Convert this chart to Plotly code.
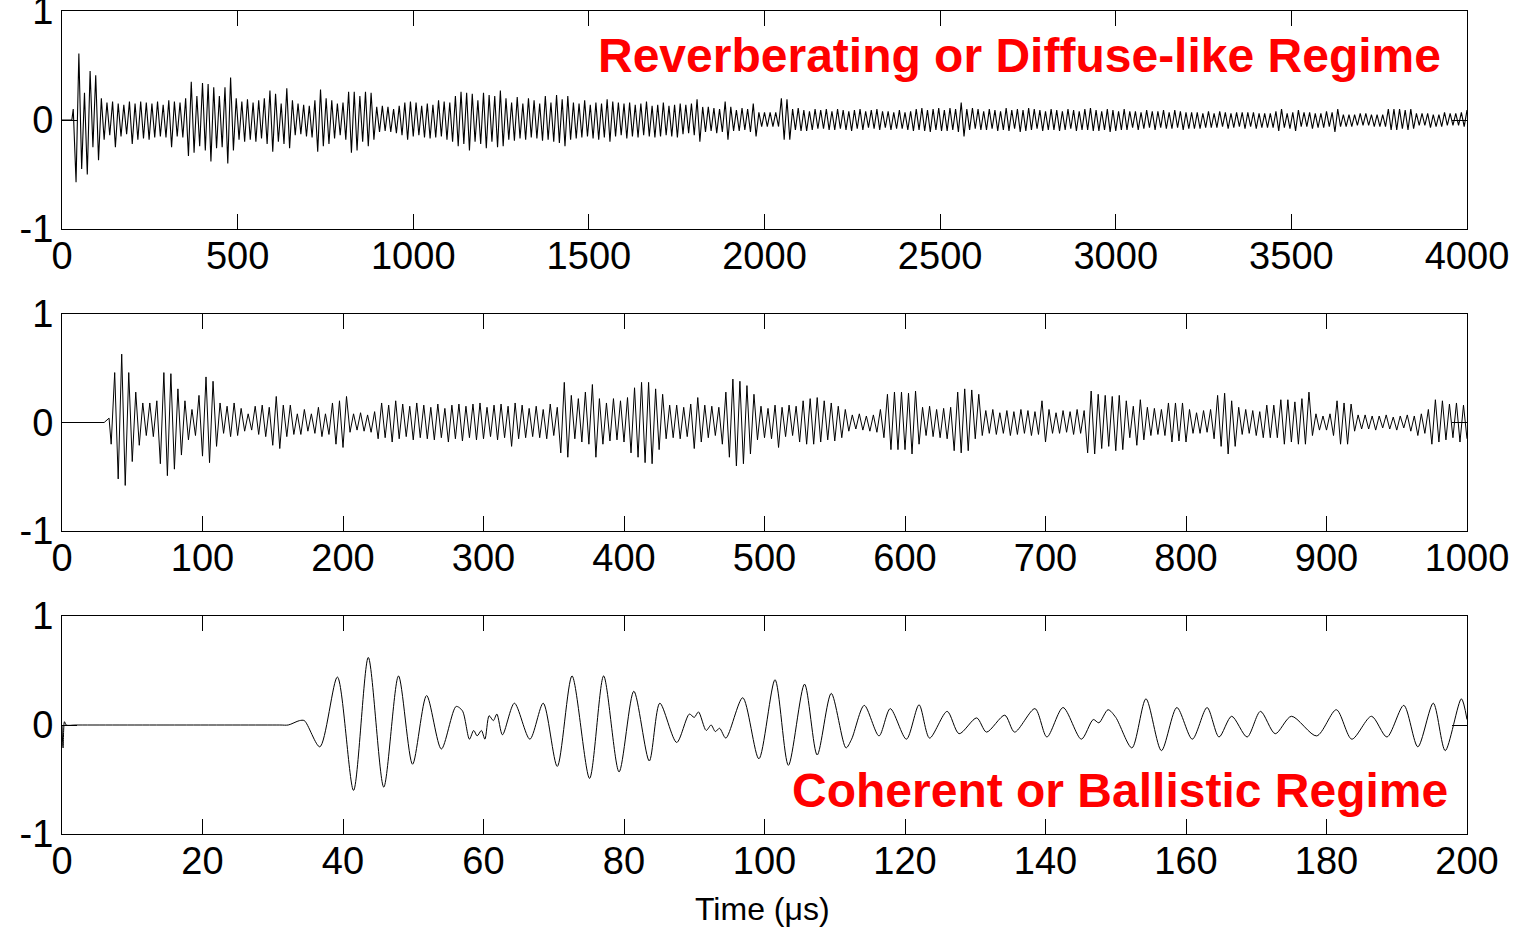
import plotly.graph_objects as go

# ---------------- data (amplitudes in hundredths) -------------
# Top panel: 0-4000 us (extrema every 8 us after the lead-in)
top_lead_t = [0, 28]
top_lead_v = [0, 0]
top_t0 = 32
top_dt = 8
top_vals = [
    10, -57, 61, -45, 25, -50, 45, -25, 41, -37, 20, -18, 16, -14, 17, -25, 15, -15, 14, -13, 17, -22, 15, -18, 17,
    -17, 16, -18, 15, -16, 17, -15, 14, -16, 18, -25, 17, -15, 16, -16, 20, -33, 35, -30, 22, -24, 34, -28, 33, -38,
    30, -26, 22, -25, 30, -40, 39, -28, 20, -18, 17, -20, 19, -18, 16, -20, 18, -17, 20, -22, 27, -29, 24, -20, 15,
    -22, 29, -26, 18, -14, 15, -13, 14, -15, 13, -16, 18, -29, 28, -24, 20, -22, 18, -17, 15, -14, 16, -18, 26, -30,
    26, -28, 22, -20, 26, -24, 25, -18, 12, -11, 13, -10, 12, -11, 10, -12, 13, -14, 16, -18, 17, -15, 16, -14, 13,
    -16, 15, -17, 14, -16, 18, -15, 17, -18, 16, -20, 22, -24, 26, -22, 25, -28, 24, -20, 18, -22, 25, -26, 23, -20,
    22, -25, 27, -24, 20, -18, 16, -19, 21, -17, 15, -18, 20, -16, 18, -17, 15, -19, 22, -18, 16, -20, 23, -21, 19,
    -24, 22, -18, 16, -17, 15, -16, 18, -15, 14, -17, 16, -18, 15, -16, 19, -20, 17, -15, 16, -14, 15, -17, 16, -15,
    14, -16, 15, -14, 17, -15, 13, -16, 14, -15, 16, -14, 13, -15, 14, -16, 15, -13, 14, -12, 15, -14, 19, -20, 12,
    -11, 12, -10, 11, -12, 10, -11, 17, -18, 12, -10, 9, -10, 11, -9, 10, -11, 15, -15, 7, -6, 7, -6, 7, -6,
    7, -6, 20, -18, 19, -18, 10, -9, 11, -10, 9, -10, 8, -9, 10, -8, 9, -8, 10, -9, 8, -9, 10, -8, 9,
    -9, 8, -10, 9, -8, 10, -9, 8, -7, 9, -8, 10, -9, 8, -7, 8, -9, 7, -8, 9, -8, 7, -9, 8, -10,
    10, -9, 11, -10, 9, -11, 10, -9, 11, -10, 9, -10, 11, -9, 10, -11, 16, -15, 10, -9, 11, -8, 10, -9, 8,
    -9, 10, -8, 9, -10, 8, -9, 11, -10, 9, -8, 10, -11, 9, -10, 11, -9, 10, -8, 9, -10, 8, -9, 10, -9,
    9, -10, 8, -9, 10, -8, 9, -10, 8, -9, 10, -9, 11, -10, 9, -10, 8, -9, 10, -11, 9, -10, 8, -9, 10,
    -9, 8, -7, 8, -9, 7, -8, 9, -7, 8, -9, 8, -7, 9, -8, 7, -8, 9, -7, 8, -9, 7, -8, 7, -8,
    7, -8, 6, -7, 8, -7, 6, -7, 8, -6, 7, -8, 6, -7, 7, -6, 7, -8, 7, -6, 7, -8, 6, -7, 6,
    -7, 6, -7, 8, -10, 10, -7, 6, -8, 7, -10, 9, -6, 7, -6, 7, -8, 6, -7, 6, -7, 8, -6, 7, -11,
    10, -6, 5, -6, 5, -6, 5, -5, 6, -5, 6, -5, 5, -6, 5, -6, 5, -6, 10, -9, 10, -9, 10, -8, 9,
    -9, 10, -8, 6, -5, 6, -5, 6, -7, 5, -6, 5, -6, 7, -5, 6, -5, 6, -5, 7, -6, 9, -5, 5, -5,
]

# Middle panel: 0-1000 us (extrema every 2.5 us after the lead-in)
mid_lead_t = [0, 30, 33.5]
mid_lead_v = [0, 0, 4]
mid_t0 = 35
mid_dt = 2.5
mid_vals = [
    -20, 46, -52, 63, -58, 46, -36, 28, -21, 18,
    -12, 18, -13, 20, -38, 46, -49, 45, -43, 31,
    -30, 20, -16, 12, -12, 25, -31, 42, -37, 38,
    -22, 18, -10, 15, -13, 18, -12, 13, -8, 8,
    -7, 15, -11, 16, -13, 14, -21, 24, -24, 16,
    -13, 16, -11, 8, -11, 12, -8, 8, -10, 14,
    -13, 8, -11, 18, -20, 20, -23, 24, -9, 8,
    -7, 9, -8, 7, -9, 10, -15, 18, -14, 16,
    -18, 20, -15, 17, -13, 15, -16, 18, -14, 16,
    -15, 14, -16, 17, -14, 13, -18, 16, -15, 17,
    -17, 15, -14, 17, -16, 18, -15, 14, -13, 16,
    -16, 17, -14, 15, -22, 18, -15, 16, -14, 13,
    -13, 15, -14, 12, -15, 17, -12, 14, -28, 37,
    -32, 25, -15, 22, -18, 28, -20, 35, -32, 22,
    -20, 18, -17, 22, -16, 20, -18, 23, -28, 32,
    -32, 37, -37, 37, -38, 31, -25, 26, -15, 16,
    -14, 16, -15, 14, -13, 17, -24, 23, -18, 16,
    -14, 15, -12, 14, -20, 28, -32, 40, -40, 38,
    -38, 34, -29, 26, -16, 15, -14, 13, -15, 16,
    -23, 14, -13, 16, -12, 15, -18, 20, -20, 22,
    -20, 23, -18, 20, -16, 18, -17, 15, -14, 12,
    -8, 7, -6, 8, -7, 6, -8, 7, -9, 12,
    -14, 26, -25, 28, -25, 28, -25, 27, -29, 29,
    -20, 14, -12, 15, -13, 12, -14, 13, -15, 14,
    -26, 28, -28, 31, -26, 30, -15, 26, -12, 11,
    -10, 12, -11, 9, -10, 11, -12, 10, -11, 12,
    -10, 11, -12, 10, -11, 20, -18, 12, -10, 9,
    -10, 11, -9, 10, -11, 12, -10, 11, -28, 29,
    -29, 26, -24, 25, -22, 24, -26, 25, -25, 20,
    -14, 15, -21, 21, -16, 14, -12, 13, -11, 12,
    -12, 18, -18, 18, -17, 18, -18, 12, -10, 9,
    -10, 11, -9, 12, -15, 25, -22, 27, -29, 20,
    -22, 14, -11, 12, -10, 11, -12, 10, -14, 16,
    -14, 16, -14, 21, -20, 21, -18, 19, -20, 22,
    -20, 28, -12, 8, -7, 6, -7, 8, -12, 20,
    -20, 18, -20, 17, -8, 7, -6, 7, -6, 6,
    -7, 6, -5, 7, -6, 5, -7, 6, -5, 7,
    -8, 6, -12, 8, -10, 12, -20, 21, -18, 20,
    -16, 17, -14, 18, -18, 16, -15,
]

# Bottom panel: 0-200 us, extrema (time in us, amplitude)
bot_t = [0, 0.15, 0.35, 0.6, 2.0, 16.0, 31.0, 32.2, 33.8, 34.5, 36.7, 39.2, 41.5, 43.6, 45.8, 47.9, 49.9,
         51.9, 54.0, 56.1, 57.0, 58.0, 58.6, 59.1, 59.7, 60.2, 60.8, 61.4, 61.9, 62.7,
         64.4, 66.6, 68.5, 70.5, 72.6, 75.1, 77.1, 79.3, 81.4, 83.6, 85.1, 87.5, 89.3,
         90.0, 90.6, 91.7, 92.4, 93.0, 93.6, 94.5, 96.9, 99.2, 101.5, 103.4, 105.7, 107.5,
         109.5, 111.6, 112.4, 114.2, 116.3, 117.9, 120.2, 122.0, 123.5, 126.0, 127.7,
         130.2, 131.6, 134.2, 135.6, 138.5, 140.2, 142.5, 145.1, 146.8, 147.6, 148.9,
         150.0, 152.3, 154.3, 156.5, 158.7, 160.9, 163.0, 164.7, 166.5, 168.7, 170.6,
         172.7, 175.0, 178.6, 181.4, 183.6, 186.4, 188.6, 191.0, 193.0, 195.2, 196.9,
         199.2, 200.0]
bot_v = [0, -0.21, 0.03, 0, 0, 0, 0, 0, 0.04, 0.04, -0.20, 0.44, -0.60, 0.62, -0.57, 0.45, -0.36,
         0.27, -0.22, 0.17, 0.13, -0.13, -0.05, -0.10, -0.05, -0.13, 0.085, 0.04, 0.10, -0.09,
         0.20, -0.13, 0.20, -0.38, 0.45, -0.49, 0.45, -0.43, 0.31, -0.33, 0.20, -0.16, 0.10,
         0.07, 0.12, -0.05, 0.0, -0.06, -0.03, -0.12, 0.25, -0.31, 0.415, -0.37, 0.375, -0.275,
         0.29, -0.21, -0.13, 0.18, -0.10, 0.15, -0.13, 0.185, -0.12, 0.125, -0.08,
         0.065, -0.065, 0.09, -0.065, 0.15, -0.11, 0.16, -0.13, 0.05, 0.02, 0.14,
         0.07, -0.21, 0.24, -0.235, 0.16, -0.13, 0.16, -0.11, 0.08, -0.11, 0.125,
         -0.08, 0.08, -0.10, 0.14, -0.13, 0.08, -0.11, 0.18, -0.20, 0.20, -0.235,
         0.24, 0.05]

top_ticks = [0, 500, 1000, 1500, 2000, 2500, 3000, 3500, 4000]
mid_ticks = [0, 100, 200, 300, 400, 500, 600, 700, 800, 900, 1000]
bot_ticks = [0, 20, 40, 60, 80, 100, 120, 140, 160, 180, 200]
y_ticks = [-1, 0, 1]

title_top = "Reverberating or Diffuse-like Regime"
title_bot = "Coherent or Ballistic Regime"
x_label = "Time (μs)"

# ---------------- build traces ----------------
top_t = top_lead_t + [top_t0 + top_dt * i for i in range(len(top_vals))]
top_v = [v / 100 for v in top_lead_v + top_vals]
mid_t = mid_lead_t + [mid_t0 + mid_dt * i for i in range(len(mid_vals))]
mid_v = [v / 100 for v in mid_lead_v + mid_vals]

fig = go.Figure()
fig.add_trace(go.Scatter(x=top_t, y=top_v, mode="lines", line=dict(color="black", width=1.1),
                         xaxis="x", yaxis="y", showlegend=False, hoverinfo="skip"))
fig.add_trace(go.Scatter(x=mid_t, y=mid_v, mode="lines", line=dict(color="black", width=1),
                         xaxis="x2", yaxis="y2", showlegend=False, hoverinfo="skip"))
fig.add_trace(go.Scatter(x=bot_t, y=bot_v, mode="lines",
                         line=dict(color="black", width=1, shape="spline", smoothing=0.8),
                         xaxis="x3", yaxis="y3", showlegend=False, hoverinfo="skip"))

FONT = "Liberation Sans, Arial, sans-serif"
tickfont = dict(family=FONT, size=38, color="black")

def xax(rng, ticks, anchor):
    return dict(range=rng, tickvals=ticks, ticktext=[str(t) for t in ticks], anchor=anchor,
                showline=True, linecolor="black", linewidth=1, mirror="ticks",
                ticks="inside", ticklen=15, tickwidth=1, tickcolor="black", automargin=False,
                ticklabelstandoff=-7, ticklabeloverflow="allow",
                showgrid=False, zeroline=False, tickfont=tickfont, domain=[0, 1])

def yax(dom, anchor):
    return dict(range=[-1, 1], tickvals=y_ticks, ticktext=["-1", "0", "1"], anchor=anchor,
                showline=True, linecolor="black", linewidth=1, mirror="ticks",
                ticks="inside", ticklen=15, tickwidth=1, tickcolor="black", automargin=False,
                ticklabeloverflow="allow",
                showgrid=False, zeroline=False, tickfont=tickfont, domain=dom)

H = 823.0
def pdom(top_px, bot_px):
    return [(834 - bot_px) / H, (834 - top_px) / H]

fig.update_layout(
    width=1520, height=930,
    margin=dict(l=62, r=53, t=11, b=96, autoexpand=False),
    paper_bgcolor="white", plot_bgcolor="white",
    xaxis=xax([0, 4000], top_ticks, "y"),
    yaxis=yax(pdom(11, 229), "x"),
    xaxis2=xax([0, 1000], mid_ticks, "y2"),
    yaxis2=yax(pdom(314, 531), "x2"),
    xaxis3=xax([0, 200], bot_ticks, "y3"),
    yaxis3=yax(pdom(616, 834), "x3"),
    annotations=[
        dict(text=title_top, xref="paper", yref="paper", x=(1443 - 62) / 1405, y=(834 - 55) / H,
             xanchor="right", yanchor="middle", showarrow=False,
             font=dict(family=FONT, size=48, color="#FF0000", weight="bold")),
        dict(text=title_bot, xref="paper", yref="paper", x=(1450 - 62) / 1405, y=(834 - 790) / H,
             xanchor="right", yanchor="middle", showarrow=False,
             font=dict(family=FONT, size=48, color="#FF0000", weight="bold")),
        dict(text=x_label, xref="paper", yref="paper", x=(762 - 62) / 1405, y=(834 - 909) / H,
             xanchor="center", yanchor="middle", showarrow=False,
             font=dict(family=FONT, size=32, color="black")),
    ],
)

fig.write_html("out.html", config={"displayModeBar": False},
               post_script="document.body.style.margin='0';document.body.style.overflow='hidden';")
